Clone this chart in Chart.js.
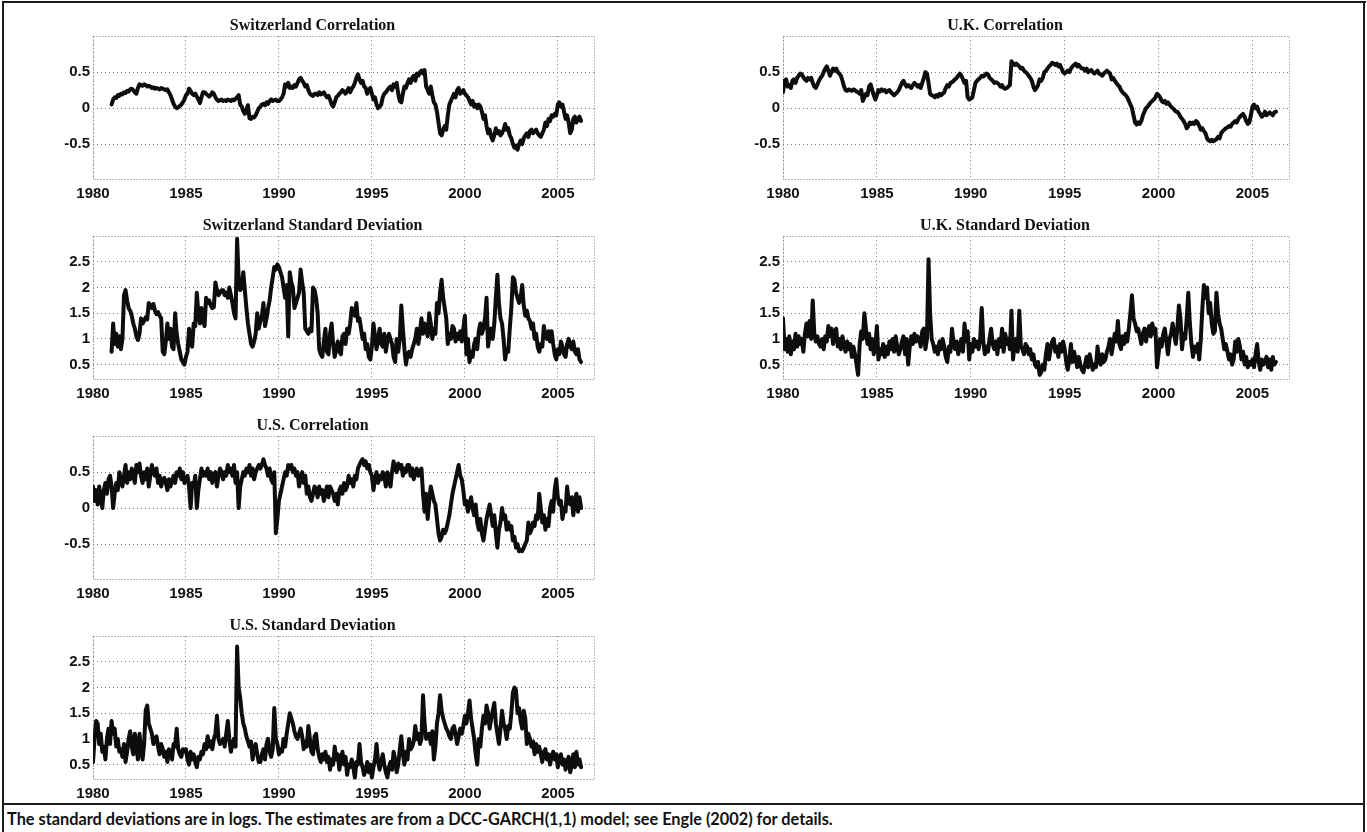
<!DOCTYPE html>
<html>
<head>
<meta charset="utf-8">
<script src="https://cdn.jsdelivr.net/npm/chart.js@4.4.1/dist/chart.umd.min.js"></script>
<style>
  html, body { margin: 0; padding: 0; background: #fff; }
  #page { position: relative; width: 1367px; height: 832px; overflow: hidden; background: #fff; }
  .panel { position: absolute; }
  .rule { position: absolute; background: #1c1c1c; }
  #caption { position: absolute; left: 7px; top: 809px; font-family: Lato, "Open Sans", sans-serif;
             font-weight: 700; font-size: 14px; color: #111; white-space: nowrap; }
</style>
</head>
<body>
<div id="page">
  <div class="rule" style="left:2px;top:1px;width:1364px;height:2px"></div>
  <div class="rule" style="left:2px;top:1px;width:2px;height:831px"></div>
  <div class="rule" style="left:1363px;top:1px;width:2px;height:831px"></div>
  <div class="rule" style="left:2px;top:803px;width:1363px;height:2px"></div>
  <div id="caption">The standard deviations are in logs. The estimates are from a DCC-GARCH(1,1) model; see Engle (2002) for details.</div>
</div>
<script>
// Monthly DCC-GARCH(1,1) estimates, first value at the start year, one value per month.
const swissStart = 1981;
const ukStart = 1980;
const usStart = 1980;

const yearTicks = [1980, 1985, 1990, 1995, 2000, 2005];
const corrTicks = [-0.5, 0, 0.5];
const stdTicks = [0.5, 1, 1.5, 2, 2.5];

const swissCorrelation = [
  0.05,0.12,0.15,0.14,0.18,0.17,0.2,0.19,0.22,0.21,0.24,0.23,
  0.26,0.27,0.25,0.22,0.2,0.28,0.33,0.32,0.31,0.33,0.32,0.3,
  0.31,0.3,0.28,0.29,0.27,0.28,0.27,0.26,0.28,0.27,0.26,0.25,
  0.26,0.22,0.18,0.12,0.06,0.02,0.0,0.01,0.03,0.05,0.08,0.12,
  0.18,0.2,0.27,0.24,0.2,0.18,0.2,0.16,0.12,0.07,0.15,0.22,
  0.22,0.2,0.18,0.16,0.18,0.22,0.2,0.15,0.12,0.1,0.11,0.12,
  0.1,0.11,0.1,0.12,0.11,0.1,0.12,0.11,0.13,0.15,0.18,0.05,
  0.02,-0.04,-0.08,-0.02,0.04,-0.14,-0.15,-0.12,-0.13,-0.1,-0.05,0.0,
  0.02,0.05,0.06,0.04,0.08,0.06,0.1,0.12,0.1,0.11,0.12,0.1,
  0.1,0.12,0.15,0.2,0.33,0.3,0.35,0.28,0.3,0.28,0.32,0.3,
  0.35,0.4,0.42,0.38,0.35,0.3,0.32,0.25,0.2,0.18,0.17,0.2,
  0.2,0.18,0.22,0.19,0.2,0.22,0.18,0.15,0.17,0.12,0.05,0.02,
  0.08,0.15,0.17,0.2,0.22,0.25,0.23,0.2,0.24,0.28,0.22,0.27,
  0.3,0.35,0.42,0.47,0.4,0.35,0.38,0.3,0.28,0.2,0.25,0.28,
  0.2,0.12,0.15,0.05,0.0,0.02,0.05,0.15,0.2,0.22,0.25,0.28,
  0.3,0.25,0.33,0.3,0.35,0.2,0.1,0.08,0.2,0.3,0.28,0.35,
  0.4,0.35,0.42,0.45,0.38,0.48,0.45,0.5,0.52,0.48,0.53,0.3,
  0.25,0.2,0.3,0.18,0.08,0.05,-0.05,-0.2,-0.35,-0.38,-0.3,-0.25,
  -0.3,-0.1,0.05,0.1,0.15,0.2,0.15,0.25,0.28,0.2,0.22,0.25,
  0.2,0.18,0.15,0.1,0.05,0.1,0.02,0.05,0.0,0.05,0.02,-0.05,
  -0.15,-0.1,-0.25,-0.35,-0.3,-0.4,-0.45,-0.38,-0.28,-0.35,-0.32,-0.38,
  -0.35,-0.3,-0.22,-0.3,-0.28,-0.38,-0.42,-0.5,-0.55,-0.52,-0.58,-0.5,
  -0.45,-0.5,-0.42,-0.38,-0.35,-0.4,-0.32,-0.3,-0.35,-0.32,-0.3,-0.35,
  -0.38,-0.4,-0.35,-0.3,-0.2,-0.25,-0.15,-0.18,-0.1,-0.12,-0.08,-0.1,
  0.05,0.08,0.02,0.05,-0.05,-0.15,-0.1,-0.2,-0.35,-0.3,-0.15,-0.12,
  -0.2,-0.15,-0.12,-0.18
];

const ukCorrelation = [
  0.22,0.38,0.4,0.3,0.32,0.28,0.38,0.4,0.35,0.42,0.45,0.48,
  0.47,0.43,0.4,0.38,0.42,0.4,0.42,0.35,0.3,0.28,0.33,0.38,
  0.42,0.45,0.5,0.55,0.58,0.52,0.45,0.5,0.55,0.52,0.55,0.5,
  0.48,0.45,0.38,0.3,0.25,0.24,0.26,0.25,0.24,0.26,0.25,0.23,
  0.22,0.2,0.25,0.1,0.15,0.2,0.18,0.3,0.33,0.25,0.18,0.12,
  0.18,0.25,0.23,0.26,0.24,0.25,0.22,0.24,0.25,0.22,0.2,0.18,
  0.2,0.22,0.25,0.3,0.35,0.38,0.33,0.3,0.32,0.3,0.28,0.32,
  0.35,0.33,0.3,0.32,0.28,0.35,0.42,0.5,0.48,0.35,0.2,0.18,
  0.17,0.15,0.18,0.16,0.2,0.18,0.2,0.22,0.28,0.32,0.3,0.35,
  0.36,0.38,0.4,0.42,0.45,0.48,0.45,0.4,0.35,0.38,0.15,0.12,
  0.13,0.15,0.25,0.35,0.38,0.4,0.42,0.45,0.44,0.46,0.48,0.47,
  0.42,0.4,0.38,0.35,0.36,0.35,0.33,0.3,0.32,0.28,0.27,0.28,
  0.3,0.32,0.65,0.62,0.6,0.62,0.6,0.58,0.55,0.56,0.52,0.5,
  0.48,0.45,0.42,0.38,0.3,0.25,0.28,0.32,0.4,0.38,0.42,0.5,
  0.52,0.55,0.58,0.6,0.63,0.62,0.6,0.62,0.58,0.6,0.55,0.5,
  0.48,0.5,0.52,0.5,0.55,0.58,0.6,0.62,0.58,0.6,0.57,0.55,
  0.55,0.52,0.55,0.5,0.52,0.53,0.5,0.48,0.5,0.52,0.48,0.47,
  0.45,0.48,0.5,0.52,0.5,0.48,0.4,0.42,0.38,0.35,0.32,0.3,
  0.25,0.22,0.2,0.18,0.15,0.1,0.05,0.0,-0.1,-0.2,-0.23,-0.2,
  -0.22,-0.18,-0.1,-0.05,0.0,0.02,0.05,0.08,0.1,0.12,0.15,0.2,
  0.18,0.15,0.1,0.08,0.1,0.06,0.08,0.05,0.02,0.0,-0.02,-0.05,
  -0.05,-0.08,-0.12,-0.15,-0.18,-0.22,-0.28,-0.25,-0.2,-0.22,-0.2,-0.22,
  -0.18,-0.2,-0.25,-0.3,-0.28,-0.32,-0.35,-0.42,-0.45,-0.46,-0.44,-0.46,
  -0.45,-0.43,-0.4,-0.42,-0.35,-0.32,-0.3,-0.28,-0.27,-0.25,-0.26,-0.22,
  -0.2,-0.18,-0.2,-0.15,-0.12,-0.1,-0.08,-0.12,-0.18,-0.22,-0.2,-0.1,
  0.02,0.05,0.0,0.02,-0.05,-0.08,-0.12,-0.1,-0.05,-0.1,-0.08,-0.06,
  -0.08,-0.1,-0.06,-0.05
];

const swissStdDev = [
  0.75,1.3,0.9,1.1,0.85,1.05,0.8,1.0,1.85,1.95,1.75,1.6,
  1.55,1.45,1.3,1.2,1.05,0.98,1.1,1.4,1.3,1.35,1.42,1.38,
  1.7,1.65,1.6,1.68,1.55,1.48,1.52,1.45,1.4,0.75,0.7,0.95,
  1.3,1.0,1.2,0.85,0.8,1.5,1.1,0.9,0.75,0.6,0.55,0.5,
  0.65,0.75,1.2,0.95,0.85,1.3,1.25,1.9,1.5,1.3,1.6,1.4,
  1.25,1.8,1.7,1.75,1.65,1.6,1.62,2.1,1.95,1.85,1.9,1.95,
  1.95,1.85,1.9,1.8,2.0,1.85,1.7,1.5,1.4,2.95,2.2,1.95,
  2.0,2.3,1.95,1.6,1.3,1.1,0.9,0.85,0.95,1.1,1.5,1.2,
  1.35,1.45,1.7,1.25,1.4,1.6,1.75,2.0,2.2,2.4,2.35,2.45,
  2.4,2.3,2.2,2.0,1.8,2.05,1.05,2.3,2.1,2.0,1.6,1.7,
  1.8,1.9,2.35,2.1,1.9,1.2,1.15,1.1,1.2,1.15,2.0,1.95,
  1.8,1.5,0.8,0.7,0.65,0.95,1.2,0.75,0.7,1.1,1.3,0.9,
  0.65,0.8,0.95,0.75,0.7,1.05,1.1,0.9,1.2,1.1,1.3,1.6,
  1.5,1.45,1.7,1.35,1.4,1.2,1.0,1.1,0.8,0.9,0.65,0.6,
  0.85,1.3,1.05,0.8,1.0,1.2,0.9,0.85,1.1,0.75,0.95,1.1,
  1.0,0.9,0.65,0.55,1.0,0.75,1.0,1.65,1.2,0.8,0.5,0.7,
  0.75,0.65,0.8,0.9,1.0,1.2,0.9,1.15,1.4,1.1,1.3,1.2,
  1.05,1.5,1.3,1.0,1.2,1.1,1.7,1.5,1.9,2.15,1.8,1.6,
  1.4,0.9,1.1,1.0,1.25,1.2,0.95,1.1,1.0,1.15,0.95,1.2,
  1.45,0.7,1.0,0.55,0.75,0.65,0.9,1.0,0.8,1.15,1.3,1.1,
  1.2,1.4,1.8,0.85,1.1,1.2,1.0,1.3,1.8,2.25,1.7,1.4,
  1.3,1.0,0.6,0.8,0.75,1.2,1.6,2.2,2.15,1.9,1.8,1.7,
  1.8,2.05,1.65,1.45,1.55,1.4,1.35,1.2,1.3,1.0,1.1,0.85,
  0.75,0.9,0.85,1.25,1.05,1.0,1.15,0.95,1.15,0.9,0.7,0.6,
  0.8,0.7,0.95,0.85,0.7,0.65,0.9,1.0,0.85,0.8,0.95,0.75,
  0.7,0.8,0.6,0.55
];

const ukStdDev = [
  1.4,0.8,1.0,0.75,1.05,0.7,0.95,0.8,1.1,0.85,1.05,0.9,
  1.0,0.75,1.1,1.3,1.05,1.35,1.0,1.75,1.1,0.95,1.05,0.9,
  0.85,1.0,0.8,1.05,0.95,1.25,1.05,1.2,0.9,1.15,1.2,0.85,
  1.0,0.8,1.05,0.9,0.75,0.95,0.8,0.9,0.65,0.85,0.7,0.5,
  0.3,0.9,1.15,1.0,1.5,1.2,0.9,1.1,0.8,1.0,0.7,0.85,
  1.25,0.6,0.8,0.7,0.9,0.65,0.85,0.7,0.95,0.8,1.0,0.75,
  1.05,0.85,0.7,0.8,0.95,1.05,0.7,1.0,0.5,0.85,1.05,0.9,
  1.1,0.95,1.05,1.0,0.85,1.15,1.2,0.8,1.0,2.55,1.5,1.0,
  0.9,0.75,0.85,0.7,0.95,0.8,1.0,0.85,0.65,0.55,0.85,0.75,
  1.2,0.9,0.8,0.95,0.7,0.85,1.0,0.75,1.3,0.95,1.15,0.6,
  0.9,0.75,1.0,0.85,0.95,0.8,1.0,1.6,0.95,0.7,0.85,0.75,
  1.0,1.2,0.9,0.8,0.95,0.7,1.0,0.85,1.2,0.75,1.1,0.9,
  1.0,0.8,1.55,0.6,0.9,1.0,0.75,1.55,0.85,0.8,0.7,0.9,
  0.85,0.7,0.8,0.6,0.7,0.5,0.45,0.55,0.3,0.35,0.5,0.4,
  0.7,0.9,0.6,0.8,0.95,1.0,0.75,0.85,0.65,0.9,0.75,0.95,
  0.8,0.55,0.4,0.6,0.9,0.55,0.75,0.6,0.45,0.65,0.5,0.4,
  0.35,0.5,0.65,0.45,0.7,0.55,0.4,0.5,0.45,0.85,0.6,0.5,
  0.7,0.55,0.6,0.75,0.85,1.0,0.7,0.9,1.1,0.95,1.35,0.9,
  0.8,1.05,0.9,1.1,0.95,1.2,1.5,1.85,1.4,1.3,1.15,1.2,
  1.05,0.9,1.1,1.2,0.95,1.15,1.25,1.05,1.3,1.1,1.2,0.45,
  0.7,1.0,0.85,1.1,1.2,0.95,0.7,1.0,1.1,1.3,1.1,0.9,
  1.2,1.65,1.4,0.8,1.1,1.0,1.4,1.9,1.3,0.9,0.65,0.85,
  0.75,0.9,0.6,1.0,1.6,2.05,1.8,2.0,1.5,1.7,1.3,1.1,
  1.15,1.9,1.5,1.3,1.2,1.0,0.8,0.9,0.75,0.6,0.7,0.5,
  0.6,0.95,0.75,1.0,0.85,0.6,0.75,0.5,0.65,0.45,0.55,0.5,
  0.6,0.45,0.7,0.9,0.55,0.4,0.6,0.5,0.55,0.65,0.45,0.6,
  0.4,0.65,0.5,0.55
];

const usCorrelation = [
  0.3,0.1,0.25,0.05,0.3,0.15,0.0,0.25,0.35,0.2,0.4,0.45,
  0.3,0.0,0.2,0.35,0.25,0.5,0.4,0.3,0.45,0.6,0.35,0.5,
  0.4,0.55,0.45,0.35,0.6,0.5,0.62,0.45,0.35,0.5,0.4,0.55,
  0.3,0.45,0.6,0.5,0.45,0.55,0.35,0.45,0.3,0.4,0.42,0.35,
  0.25,0.4,0.3,0.38,0.45,0.35,0.5,0.45,0.55,0.4,0.5,0.35,
  0.4,0.45,0.3,0.0,0.35,0.3,0.45,0.0,0.25,0.4,0.55,0.45,
  0.5,0.45,0.55,0.4,0.5,0.35,0.45,0.5,0.3,0.45,0.55,0.5,
  0.4,0.5,0.45,0.6,0.5,0.55,0.45,0.6,0.35,0.5,0.0,0.3,
  0.4,0.5,0.45,0.55,0.5,0.6,0.45,0.55,0.4,0.5,0.55,0.6,
  0.55,0.6,0.68,0.6,0.55,0.45,0.55,0.4,0.35,0.5,-0.35,-0.15,
  0.1,0.2,0.3,0.4,0.5,0.45,0.6,0.55,0.6,0.5,0.55,0.45,
  0.5,0.3,0.4,0.5,0.35,0.45,0.2,0.3,0.15,0.1,0.2,0.3,
  0.25,0.15,0.3,0.2,0.25,0.1,0.2,0.3,0.15,0.3,0.25,0.2,
  0.1,0.2,0.05,0.25,0.3,0.2,0.35,0.25,0.3,0.45,0.35,0.4,
  0.3,0.45,0.4,0.55,0.6,0.65,0.68,0.6,0.65,0.55,0.6,0.5,
  0.45,0.25,0.4,0.5,0.35,0.45,0.4,0.5,0.45,0.3,0.5,0.4,
  0.3,0.5,0.65,0.55,0.5,0.62,0.55,0.6,0.45,0.55,0.5,0.6,
  0.6,0.45,0.55,0.4,0.5,0.55,0.45,0.5,0.55,0.2,-0.05,0.2,
  -0.15,0.1,0.3,0.2,0.1,0.05,-0.15,-0.35,-0.45,-0.4,-0.3,-0.35,
  -0.3,-0.2,-0.1,0.05,0.2,0.3,0.4,0.5,0.6,0.45,0.4,0.25,
  0.05,0.1,-0.05,0.05,0.15,0.0,-0.1,0.05,-0.2,-0.3,-0.15,-0.35,
  -0.45,-0.3,-0.15,-0.05,0.05,-0.1,-0.25,-0.1,-0.35,-0.55,-0.3,-0.2,
  0.0,-0.15,-0.1,-0.3,-0.2,-0.3,-0.25,-0.45,-0.4,-0.55,-0.5,-0.6,
  -0.58,-0.6,-0.55,-0.5,-0.45,-0.2,-0.35,-0.3,-0.2,-0.25,-0.1,-0.15,
  0.2,0.0,-0.2,-0.1,-0.3,-0.15,-0.25,0.0,0.1,-0.05,0.25,0.4,
  0.15,0.05,0.1,-0.15,0.0,-0.05,0.3,0.1,0.05,0.15,-0.1,0.1,
  0.2,-0.05,0.15,0.0
];

const usStdDev = [
  0.55,1.0,1.35,1.3,0.9,1.1,0.75,0.85,0.6,1.0,1.2,0.9,
  1.35,1.1,1.2,0.85,1.0,0.75,0.8,0.65,0.9,0.55,0.75,1.0,
  1.15,0.85,0.7,1.1,0.85,0.6,1.1,0.8,0.6,0.9,1.55,1.65,
  1.3,1.2,1.1,0.9,1.0,1.05,0.85,0.7,0.9,0.8,0.65,0.75,
  0.55,0.8,0.75,0.6,0.9,0.85,1.2,0.8,0.7,0.65,0.8,0.75,
  0.8,0.6,0.5,0.75,0.6,0.7,0.55,0.45,0.65,0.6,0.75,0.7,
  0.9,0.8,1.05,0.85,0.95,0.8,1.0,1.1,1.45,1.0,0.9,0.95,
  1.0,0.85,1.1,1.35,1.0,0.75,0.9,1.0,0.85,2.8,2.0,1.8,
  1.5,1.3,1.2,1.05,0.95,0.85,0.95,0.6,0.8,0.9,0.7,0.55,
  0.55,0.7,0.8,0.6,0.9,1.0,0.75,0.65,0.8,1.6,1.0,0.9,
  0.7,0.8,0.75,1.0,0.85,1.1,1.3,1.5,1.4,1.3,1.15,1.05,
  1.0,1.1,1.2,1.05,0.8,0.95,0.85,1.25,1.0,0.75,0.7,1.05,
  1.1,0.8,0.65,0.55,0.7,0.6,0.75,0.55,0.65,0.4,0.6,0.5,
  0.85,0.6,0.7,0.4,0.6,0.75,0.5,0.65,0.3,0.5,0.45,0.6,
  0.45,0.25,0.55,0.5,0.9,0.55,0.45,0.3,0.4,0.55,0.35,0.5,
  0.25,0.45,0.6,0.9,0.55,0.4,0.55,0.7,0.5,0.35,0.25,0.45,
  0.55,0.4,0.75,0.6,0.35,0.5,0.8,1.05,0.7,0.5,0.75,0.6,
  1.0,0.8,0.85,0.95,1.25,1.0,1.1,0.9,1.0,1.85,1.3,1.0,
  1.05,1.1,0.9,1.15,0.6,0.85,1.3,1.5,1.85,1.55,1.4,1.3,
  1.2,1.15,1.05,1.0,1.2,1.25,1.1,0.9,1.05,1.2,1.1,1.25,
  1.45,1.3,1.5,1.75,1.4,1.2,1.0,0.7,0.5,1.0,0.85,1.2,
  1.45,1.3,1.65,1.5,1.2,1.4,1.55,1.7,1.3,1.1,0.9,1.2,
  1.55,1.3,1.2,1.0,1.25,1.2,1.5,1.9,2.0,1.95,1.5,1.6,
  1.35,1.2,1.55,1.4,0.9,1.1,1.0,0.85,0.95,0.7,0.9,0.75,
  0.85,0.7,0.55,0.75,0.8,0.6,0.7,0.5,0.65,0.75,0.6,0.7,
  0.45,0.65,0.7,0.5,0.6,0.4,0.55,0.65,0.35,0.5,0.7,0.45,
  0.75,0.5,0.6,0.45
];

// ---- fonts -------------------------------------------------------------
function fontInstalled(name) {
  const ctx = document.createElement('canvas').getContext('2d');
  const sample = '1980 2005 -0.5 abcdefgh';
  ctx.font = 'bold 16px monospace';
  const base = ctx.measureText(sample).width;
  ctx.font = `bold 16px "${name}", monospace`;
  return Math.abs(ctx.measureText(sample).width - base) > 0.5;
}
const tickFont = fontInstalled('Liberation Sans Narrow')
  ? { family: '"Liberation Sans Narrow"', size: 16, weight: 'bold' }
  : { family: '"Liberation Sans", Arial, sans-serif', size: 15, weight: 'bold' };
const titleFont = { family: '"Liberation Serif", "DejaVu Serif", serif', size: 16, weight: 'bold', lineHeight: 1.2 };

// ---- panels ------------------------------------------------------------
const columns = [
  { left: 30, width: 585, padRight: 20 },
  { left: 720, width: 585, padRight: 15 }
];
const rowHeight = 200;

const panels = [
  { title: 'Switzerland Correlation',        col: 0, row: 0, start: swissStart, values: swissCorrelation, ticks: corrTicks, min: -1,  max: 1 },
  { title: 'U.K. Correlation',               col: 1, row: 0, start: ukStart,    values: ukCorrelation,    ticks: corrTicks, min: -1,  max: 1 },
  { title: 'Switzerland Standard Deviation', col: 0, row: 1, start: swissStart, values: swissStdDev,      ticks: stdTicks,  min: 0.2, max: 3 },
  { title: 'U.K. Standard Deviation',        col: 1, row: 1, start: ukStart,    values: ukStdDev,         ticks: stdTicks,  min: 0.2, max: 3 },
  { title: 'U.S. Correlation',               col: 0, row: 2, start: usStart,    values: usCorrelation,    ticks: corrTicks, min: -1,  max: 1 },
  { title: 'U.S. Standard Deviation',        col: 0, row: 3, start: usStart,    values: usStdDev,         ticks: stdTicks,  min: 0.2, max: 3 }
];

// dotted box around each plotting area
const plotFrame = {
  id: 'plotFrame',
  beforeDatasetsDraw(chart) {
    const { ctx, chartArea: a } = chart;
    ctx.save();
    ctx.strokeStyle = '#7a7a7a';
    ctx.lineWidth = 1;
    ctx.setLineDash([1, 2]);
    ctx.strokeRect(Math.round(a.left) + 0.5, Math.round(a.top) + 0.5,
                   Math.round(a.width) - 1, Math.round(a.height) - 1);
    ctx.restore();
  }
};

const gridStyle = { color: '#7a7a7a', lineWidth: 1, drawTicks: false };
const dotted = { display: false, dash: [1, 3] };

const page = document.getElementById('page');
panels.forEach(p => {
  const col = columns[p.col];
  const canvas = document.createElement('canvas');
  canvas.className = 'panel';
  canvas.width = col.width;
  canvas.height = 210;
  canvas.style.left = col.left + 'px';
  canvas.style.top = (p.row * rowHeight) + 'px';
  page.appendChild(canvas);

  new Chart(canvas, {
    type: 'line',
    data: {
      datasets: [{
        data: p.values.map((v, i) => ({ x: p.start + i / 12, y: v })),
        borderColor: '#0d0d0d',
        borderWidth: 4,
        pointRadius: 0,
        tension: 0,
        fill: false,
        borderJoinStyle: 'round',
        borderCapStyle: 'round'
      }]
    },
    options: {
      animation: false,
      responsive: false,
      events: [],
      layout: { padding: { left: 0, right: col.padRight, top: 0, bottom: 0 } },
      plugins: {
        legend: { display: false },
        tooltip: { enabled: false },
        title: {
          display: true,
          text: p.title,
          color: '#111',
          font: titleFont,
          padding: { top: 16, bottom: 1 }
        }
      },
      scales: {
        x: {
          type: 'linear',
          min: 1980,
          max: 2007,
          afterBuildTicks: s => { s.ticks = yearTicks.map(v => ({ value: v })); },
          afterFit: s => { s.height = 30; },
          ticks: { font: tickFont, color: '#111', padding: 5, maxRotation: 0, autoSkip: false,
                   callback: v => String(v) },
          grid: gridStyle,
          border: dotted
        },
        y: {
          type: 'linear',
          min: p.min,
          max: p.max,
          afterBuildTicks: s => { s.ticks = p.ticks.map(v => ({ value: v })); },
          afterFit: s => { s.width = 63; },
          ticks: { font: tickFont, color: '#111', padding: 3, callback: v => String(v) },
          grid: gridStyle,
          border: dotted
        }
      }
    },
    plugins: [plotFrame]
  });
});

// caption spans the width of the left-hand figures and a bit more
const caption = document.getElementById('caption');
caption.style.fontSize = (14 * 826 / caption.scrollWidth) + 'px';
</script>
</body>
</html>
